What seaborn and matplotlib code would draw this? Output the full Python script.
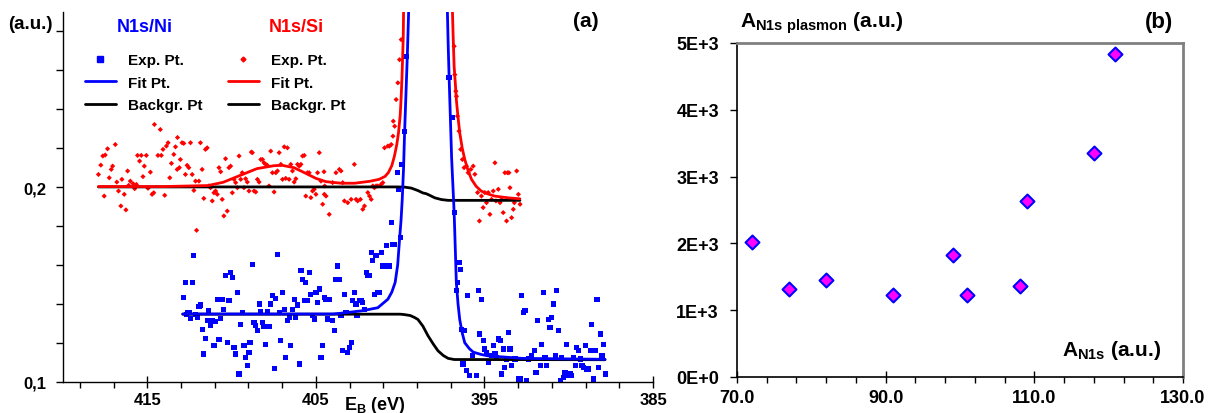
import matplotlib
matplotlib.use("Agg")
import matplotlib.pyplot as plt
import seaborn as sns
from matplotlib.lines import Line2D
from matplotlib.ticker import FixedLocator, MultipleLocator, FuncFormatter


# -----------------------------
# Data: panel (a), N1s/Si (red)
# -----------------------------
si_exp_E = [
    414.58, 414.23, 413.21,
    417.90, 417.76, 417.64, 417.50, 417.36, 417.56, 417.26, 417.14, 417.06, 416.90,
    416.81, 416.71, 416.57, 416.51, 416.37, 416.27, 416.17, 416.11, 416.01, 415.85,
    415.75, 415.65, 415.58, 415.46, 415.36, 415.26, 415.18, 415.06, 414.96, 414.82,
    414.72, 414.62, 414.37, 414.17, 414.07, 413.97, 413.87, 413.77, 413.67, 413.57,
    413.43, 413.33, 413.23, 413.10, 413.04, 412.94, 412.84, 412.74, 412.64, 412.54,
    412.44, 412.34, 412.24, 412.14, 412.08, 411.94, 411.85, 411.75, 411.65, 411.55,
    411.45, 411.35, 411.25, 411.15, 411.05, 410.95, 410.85, 410.75, 410.65, 410.56,
    410.46, 410.36, 410.26, 410.16, 410.06, 409.96, 409.86, 409.76, 409.66, 409.56,
    409.46, 409.37, 409.27, 409.17, 409.07, 408.97, 408.83, 408.77, 408.67, 408.57,
    408.47, 408.37, 408.27, 408.17, 408.08, 407.98, 407.88, 407.78, 407.68, 407.58,
    407.48, 407.38, 407.28, 407.18, 407.08, 406.98, 406.88, 406.79, 406.69, 406.59,
    406.49, 406.39, 406.29, 406.19, 406.09, 405.99, 405.89, 405.79, 405.69, 405.60,
    405.50, 405.40, 405.30, 405.20, 405.10, 405.00, 404.90, 404.80, 404.70, 404.60,
    404.50, 404.40, 404.21,
    404.52, 404.48, 404.01, 403.81, 403.61, 403.51, 403.41, 403.31, 403.11, 402.91,
    402.72, 402.62, 402.52, 402.36, 402.22, 402.12, 401.92, 401.82, 401.72, 401.62,
    401.53, 401.43, 401.33, 401.13, 401.03, 400.93, 400.73, 400.63, 400.53, 400.43,
    400.41, 400.33, 400.24, 400.14, 400.04, 399.94,
    396.80, 396.76, 396.70, 396.66, 396.60, 396.51, 396.41, 396.31, 396.21, 396.07,
    395.97, 395.81, 395.67, 395.57, 395.41, 395.30, 395.18, 395.08, 394.98, 394.88,
    394.78, 394.68, 394.58, 394.48, 394.38, 394.32, 394.18, 394.08, 393.99, 393.89,
    393.79, 393.69, 393.63, 393.55, 393.49, 393.39, 393.29, 393.23, 393.09, 392.99, 392.89,
]
si_exp_I = [
    0.2322, 0.2296, 0.2255,
    0.2065, 0.2113, 0.2160, 0.2165, 0.2197, 0.1954, 0.2048, 0.2091, 0.2108, 0.2219,
    0.2026, 0.1980, 0.1903, 0.2040, 0.1963, 0.1883, 0.2083, 0.2009, 0.2031, 0.2018,
    0.1992, 0.2014, 0.2163, 0.2134, 0.2163, 0.2054, 0.2108, 0.2163, 0.1994, 0.2077,
    0.1963, 0.1971, 0.2163, 0.2163, 0.2194, 0.1958, 0.2211, 0.2228, 0.2048, 0.2122,
    0.2168, 0.2207, 0.2091, 0.2100, 0.2142, 0.2228, 0.2225, 0.2065, 0.2112, 0.2100,
    0.2228, 0.2065, 0.1983, 0.2031, 0.1778, 0.2031, 0.2228, 0.2091, 0.1942, 0.2194,
    0.2202, 0.2006, 0.1997, 0.1929, 0.1971, 0.1980, 0.1963, 0.2100, 0.2079, 0.1937,
    0.1852, 0.2146, 0.1877, 0.2100, 0.2108, 0.1971, 0.2040, 0.2023, 0.1997, 0.2160,
    0.2040, 0.2074, 0.1997, 0.2043, 0.2026, 0.1980, 0.2180, 0.2177, 0.1980, 0.1975,
    0.2040, 0.2026, 0.2142, 0.2142, 0.2125, 0.2117, 0.2112, 0.2006, 0.2185, 0.2074,
    0.1975, 0.2074, 0.2083, 0.2177, 0.2117, 0.2040, 0.2207, 0.2045, 0.2202, 0.2040,
    0.2117, 0.2083, 0.2026, 0.2043, 0.2117, 0.2108, 0.2117, 0.2160, 0.2163, 0.1954,
    0.2074, 0.2074, 0.1946, 0.1980, 0.1989, 0.1963, 0.2074, 0.2177, 0.2031, 0.1912,
    0.1963, 0.1954, 0.1860,
    0.2079, 0.2006, 0.2023, 0.2074, 0.2091, 0.2083, 0.2023, 0.1929, 0.1920, 0.1937,
    0.2117, 0.1937, 0.1929, 0.1937, 0.1886, 0.1903, 0.1972, 0.1954, 0.1937, 0.2006,
    0.1997, 0.2006, 0.2006, 0.2014, 0.2023, 0.2202, 0.2211, 0.2211, 0.2219, 0.2262,
    0.2339, 0.2313, 0.2450, 0.2536, 0.2655, 0.2758,
    0.2724, 0.2578, 0.2493, 0.2467, 0.2365, 0.2288, 0.2194, 0.2142, 0.2100, 0.2108,
    0.2074, 0.2091, 0.2108, 0.2066, 0.1972, 0.1826, 0.1954, 0.1895, 0.1972, 0.1920,
    0.1972, 0.1860, 0.1937, 0.1980, 0.2125, 0.1929, 0.1989, 0.1920, 0.1937, 0.1869,
    0.2074, 0.1826, 0.2074, 0.2074, 0.1997, 0.1843, 0.1886, 0.1920, 0.2083, 0.1963, 0.1912,
]

si_fit_E = [417.9, 414.0, 411.4, 410.5, 409.5, 408.5, 407.5, 407.0, 406.3, 405.7,
            405.0, 404.4, 403.5, 402.7, 401.8, 401.25, 400.9, 400.7, 400.5, 400.35,
            400.2, 400.1, 400.0, 399.95, 399.9, 399.86, 399.82, 399.8, 399.6, 398.4,
            397.1, 396.9, 396.85, 396.8, 396.72, 396.67, 396.57, 396.47, 396.32, 396.17,
            395.97, 395.77, 395.5, 395.2, 394.8, 394.4, 393.6, 392.9]
si_fit_I = [0.2003, 0.2003, 0.2008, 0.2025, 0.2060, 0.2095, 0.2110, 0.2112, 0.2100, 0.2075,
            0.2045, 0.2028, 0.2020, 0.2020, 0.2030, 0.2040, 0.2055, 0.2075, 0.2110, 0.2157,
            0.2220, 0.2280, 0.2370, 0.2450, 0.2550, 0.2655, 0.2770, 0.2900, 0.3300, 0.6000,
            0.3300, 0.2900, 0.2750, 0.2620, 0.2520, 0.2450, 0.2360, 0.2280, 0.2200, 0.2142,
            0.2085, 0.2040, 0.2005, 0.1980, 0.1965, 0.1954, 0.1945, 0.1940]

si_bg_E = [417.9, 400.2, 399.74, 399.34, 398.94, 398.65, 398.45, 398.25, 397.95, 397.55,
           397.16, 392.9]
si_bg_I = [0.2001, 0.2001, 0.2000, 0.1995, 0.1982, 0.1970, 0.1966, 0.1958, 0.1945, 0.1936,
           0.1932, 0.1932]

# -----------------------------
# Data: panel (a), N1s/Ni (blue)
# -----------------------------
ni_exp_E = [
    412.84, 412.74, 412.68, 412.60, 412.52, 412.44, 412.34, 412.24, 412.14, 412.04,
    411.94, 411.85, 411.75, 411.65, 411.55, 411.45, 411.35, 411.25, 411.15, 411.05,
    410.95, 410.85, 410.75, 410.65, 410.56, 410.46, 410.36, 410.26, 410.16, 410.06,
    409.96, 409.86, 409.76, 409.66, 409.56, 409.46, 409.37, 409.27, 409.17, 409.07,
    408.97, 408.91, 408.77, 408.67, 408.57, 408.47, 408.37, 408.27, 408.17, 408.08,
    407.98, 407.88, 407.78, 407.68, 407.58, 407.48, 407.38, 407.28, 407.18, 407.08,
    406.98, 406.88, 406.79, 406.69, 406.59, 406.49, 406.39, 406.29, 406.19, 406.09,
    405.99, 405.89, 405.79, 405.69, 405.60, 405.50, 405.40, 405.30, 405.20, 405.10,
    405.00, 404.90, 404.80, 404.70, 404.60, 404.50, 404.40, 404.31, 404.21,
    404.01, 403.91, 403.81, 403.71, 403.61, 403.51, 403.41, 403.31, 403.21, 403.11,
    403.01, 402.91, 402.82, 402.72, 402.62, 402.56, 402.42, 402.32, 402.22, 402.12,
    402.02, 401.92, 401.82, 401.72, 401.62, 401.53, 401.43, 401.33, 401.23, 401.13,
    401.03, 400.93, 400.83, 400.73, 400.63, 400.53, 400.43, 400.33, 400.18, 400.10,
    400.00, 399.90, 399.74, 399.64,
    397.10, 396.90, 396.80, 396.68, 396.60, 396.51, 396.41, 396.37, 396.27, 396.17,
    396.07, 396.01, 395.87, 395.73, 395.47, 395.37, 395.28, 395.18, 395.08, 394.98,
    394.88, 394.78, 394.58, 394.48, 394.38, 394.28, 394.18, 394.05, 393.99, 393.89,
    393.79, 393.69, 393.59, 393.49, 393.39, 393.19, 392.99, 392.85, 392.80, 392.70,
    392.60, 392.50, 392.40, 392.20, 392.04, 391.94, 391.84, 391.70, 391.60, 391.51,
    391.41, 391.31, 391.21, 391.11, 391.01, 390.91, 390.81, 390.71, 390.61, 390.51,
    390.41, 390.31, 390.22, 390.12, 390.02, 389.92, 389.82, 389.72, 389.62, 389.52,
    389.42, 389.32, 389.22, 389.12, 389.03, 388.93, 388.83, 388.73, 388.63, 388.53,
    388.43, 388.33, 388.23, 388.13, 388.03, 387.93, 387.83,
]
ni_exp_I = [
    0.1433, 0.1510, 0.1347, 0.1356, 0.1356, 0.1325, 0.1510, 0.1647, 0.1347, 0.1330,
    0.1387, 0.1394, 0.1270, 0.1142, 0.1224, 0.1313, 0.1364, 0.1288, 0.1313, 0.1185,
    0.1308, 0.1421, 0.1216, 0.1325, 0.1421, 0.1370, 0.1544, 0.1202, 0.1416, 0.1561,
    0.1536, 0.1177, 0.1142, 0.1459, 0.1040, 0.1296, 0.1356, 0.1185, 0.1125, 0.1083,
    0.1151, 0.1202, 0.1601, 0.1305, 0.1288, 0.1262, 0.1399, 0.1361, 0.1305, 0.1283,
    0.1190, 0.1361, 0.1283, 0.1399, 0.1442, 0.1066, 0.1428, 0.1655, 0.1356, 0.1211,
    0.1459, 0.1373, 0.1125, 0.1313, 0.1330, 0.1185, 0.1373, 0.1424, 0.1330, 0.1394,
    0.1091, 0.1570, 0.1527, 0.1416, 0.1510, 0.1416, 0.1561, 0.1450, 0.1339, 0.1322,
    0.1459, 0.1407, 0.1476, 0.1125, 0.1185, 0.1433, 0.1424, 0.1322, 0.1424,
    0.1313, 0.1262, 0.1527, 0.1595, 0.1527, 0.1339, 0.1159, 0.1450, 0.1356, 0.1151,
    0.1176, 0.1202, 0.1416, 0.1458, 0.1399, 0.1339, 0.1416, 0.1416, 0.1407, 0.1373,
    0.1561, 0.1544, 0.1544, 0.1664, 0.1621, 0.1450, 0.1647, 0.1458, 0.1458, 0.1664,
    0.1595, 0.1595, 0.1698, 0.1595, 0.1595, 0.1818, 0.1706, 0.1706, 0.2077, 0.1988,
    0.1740, 0.2116, 0.2287, 0.2672,
    0.2565, 0.2356, 0.1869, 0.1467, 0.1510, 0.1612, 0.1578, 0.1270, 0.1091, 0.1262,
    0.1057, 0.1441, 0.1031, 0.1134, 0.1031, 0.1467, 0.1245, 0.1424, 0.1211, 0.1168,
    0.1151, 0.1099, 0.1134, 0.1185, 0.1142, 0.1125, 0.1219, 0.1211, 0.1040, 0.1168,
    0.1074, 0.1117, 0.1253, 0.1168, 0.1082, 0.1117, 0.1014, 0.1014, 0.1441, 0.1356,
    0.1364, 0.1005, 0.1117, 0.1134, 0.1159, 0.1048, 0.1313, 0.1082, 0.1193, 0.1458,
    0.1125, 0.1082, 0.1321, 0.1279, 0.1330, 0.1399, 0.1134, 0.1467, 0.1262, 0.1005,
    0.1125, 0.1023, 0.1048, 0.1193, 0.1031, 0.1040, 0.1031, 0.1125, 0.1082, 0.1176,
    0.1159, 0.1117, 0.1082, 0.1074, 0.1185, 0.1065, 0.1065, 0.1159, 0.1296, 0.1014,
    0.1159, 0.1424, 0.1074, 0.1245, 0.1134, 0.1193, 0.1040,
]

ni_fit_E = [412.9, 404.0, 403.5, 402.3, 401.33, 400.73, 400.5, 400.3, 400.15, 400.04,
            399.95, 399.88, 399.8, 399.74, 399.65, 399.58, 399.5, 399.3, 398.35, 397.4,
            397.2, 397.15, 397.1, 396.95, 396.8, 396.72, 396.67, 396.57, 396.47, 396.32,
            396.17, 395.9, 395.67, 395.2, 394.8, 392.8, 387.85]
ni_fit_I = [0.1348, 0.1348, 0.1352, 0.1364, 0.1380, 0.1424, 0.1460, 0.1510, 0.1600, 0.1730,
            0.1830, 0.1936, 0.2100, 0.2280, 0.2500, 0.2670, 0.2900, 0.3500, 0.7000, 0.3500,
            0.2900, 0.2720, 0.2568, 0.2150, 0.1870, 0.1650, 0.1510, 0.1400, 0.1320, 0.1250,
            0.1200, 0.1170, 0.1152, 0.1140, 0.1133, 0.1120, 0.1115]

ni_bg_E = [412.9, 400.0, 399.76, 399.4, 399.15, 398.95, 398.65, 398.35, 398.05, 397.76,
           397.45, 397.16, 396.8, 387.85]
ni_bg_I = [0.1347, 0.1347, 0.1345, 0.1340, 0.1330, 0.1320, 0.1285, 0.1236, 0.1195, 0.1159,
           0.1135, 0.1120, 0.1114, 0.1113]

# -----------------------------
# Data: panel (b)
# -----------------------------
a_n1s = [72.0, 77.0, 82.0, 91.0, 99.0, 101.0, 108.0, 109.0, 118.0, 120.8]
a_plasmon = [2020, 1320, 1445, 1230, 1830, 1225, 1365, 2635, 3355, 4830]


# -----------------------------
# Style
# -----------------------------
sns.set_style("white")
plt.rcParams["font.family"] = ["Liberation Sans", "DejaVu Sans"]
plt.rcParams["font.weight"] = "bold"
plt.rcParams["text.color"] = "black"
plt.rcParams["xtick.color"] = "black"
plt.rcParams["ytick.color"] = "black"
plt.rcParams["axes.labelcolor"] = "black"
plt.rcParams["mathtext.fontset"] = "custom"
plt.rcParams["mathtext.rm"] = "Liberation Sans:bold"
plt.rcParams["mathtext.bf"] = "Liberation Sans:bold"
plt.rcParams["mathtext.it"] = "Liberation Sans:bold"

fig = plt.figure(figsize=(12.15, 4.14), dpi=100)

# -----------------------------
# Panel (a): spectra
# -----------------------------
ax1 = fig.add_axes([0.0519, 0.0756, 0.4856, 0.8930])

sns.scatterplot(x=si_exp_E, y=si_exp_I, ax=ax1, marker="D", s=7,
                color="red", edgecolor="none", zorder=2)
sns.scatterplot(x=ni_exp_E, y=ni_exp_I, ax=ax1, marker="s", s=14,
                color="blue", edgecolor="none", zorder=2)
sns.lineplot(x=si_bg_E, y=si_bg_I, ax=ax1, color="black", lw=2,
             sort=False, estimator=None, zorder=3)
sns.lineplot(x=ni_bg_E, y=ni_bg_I, ax=ax1, color="black", lw=2,
             sort=False, estimator=None, zorder=3)
sns.lineplot(x=si_fit_E, y=si_fit_I, ax=ax1, color="red", lw=2,
             sort=False, estimator=None, zorder=4)
sns.lineplot(x=ni_fit_E, y=ni_fit_I, ax=ax1, color="blue", lw=2,
             sort=False, estimator=None, zorder=4)

ax1.set_xlim(420, 385)
ax1.set_ylim(0.1, 0.29)
ax1.xaxis.set_major_locator(FixedLocator([415, 405, 395, 385]))
ax1.xaxis.set_minor_locator(FixedLocator(list(range(385, 420, 2))))
ax1.yaxis.set_major_locator(FixedLocator([0.1, 0.2]))
ax1.yaxis.set_minor_locator(MultipleLocator(0.02))
ax1.yaxis.set_major_formatter(FuncFormatter(lambda v, p: f"{v:.1f}".replace(".", ",")))
ax1.tick_params(axis="x", which="major", direction="inout", length=9, width=1,
                labelsize=12, pad=3)
ax1.tick_params(axis="x", which="minor", direction="out", length=4, width=1)
ax1.tick_params(axis="y", which="both", direction="out", length=5, width=1,
                labelsize=12, pad=7)
ax1.tick_params(bottom=True, left=True, which="both")
ax1.set_xlabel("")
ax1.set_ylabel("")
for side in ["top", "right"]:
    ax1.spines[side].set_visible(False)
for side in ["left", "bottom"]:
    ax1.spines[side].set_color("black")
    ax1.spines[side].set_linewidth(1)

fig.text(30.8 / 1215, 1 - 29 / 414, "(a.u.)", ha="center", va="baseline", fontsize=13.5)
fig.text(585.5 / 1215, 1 - 27 / 414, "(a)", ha="center", va="baseline", fontsize=15)
fig.text(375 / 1215, 1 - 410 / 414, r"E$_{B}$ (eV)", ha="center", va="baseline", fontsize=13)
fig.text(145 / 1215, 1 - 32 / 414, "N1s/Ni", ha="center", va="baseline",
         fontsize=13, color="blue")
fig.text(296 / 1215, 1 - 32 / 414, "N1s/Si", ha="center", va="baseline",
         fontsize=13, color="red")

ni_handles = [
    Line2D([], [], marker="s", color="blue", linestyle="none", markersize=4),
    Line2D([], [], color="blue", lw=2),
    Line2D([], [], color="black", lw=2),
]
si_handles = [
    Line2D([], [], marker="D", color="red", linestyle="none", markersize=2.5),
    Line2D([], [], color="red", lw=2),
    Line2D([], [], color="black", lw=2),
]
labels = ["Exp. Pt.", "Fit Pt.", "Backgr. Pt"]
leg_kw = dict(loc="upper left", frameon=False, fontsize=11, handlelength=2.0,
              handletextpad=0.8, labelspacing=0.56, borderpad=0, borderaxespad=0,
              bbox_transform=fig.transFigure, labelcolor="black")
leg1 = ax1.legend(ni_handles, labels, bbox_to_anchor=(85 / 1215, 1 - 54 / 414), **leg_kw)
ax1.add_artist(leg1)
ax1.legend(si_handles, labels, bbox_to_anchor=(228 / 1215, 1 - 54 / 414), **leg_kw)

# -----------------------------
# Panel (b): plasmon area vs N1s area
# -----------------------------
ax2 = fig.add_axes([0.6066, 0.0870, 0.3671, 0.8068])
sns.scatterplot(x=a_n1s, y=a_plasmon, ax=ax2, marker="D", s=50,
                color="#FF00FF", edgecolor="blue", linewidth=1.5, zorder=3)

ax2.set_xlim(70, 130)
ax2.set_ylim(0, 5000)
ax2.xaxis.set_major_locator(FixedLocator([70, 90, 110, 130]))
ax2.xaxis.set_minor_locator(FixedLocator(list(range(70, 131, 4))))
ax2.yaxis.set_major_locator(MultipleLocator(1000))
ax2.xaxis.set_major_formatter(FuncFormatter(lambda v, p: f"{v:.1f}"))
ax2.yaxis.set_major_formatter(
    FuncFormatter(lambda v, p: "0E+0" if v == 0 else f"{int(round(v / 1000))}E+3"))
ax2.tick_params(axis="x", which="major", direction="inout", length=8, width=1,
                labelsize=13, pad=5)
ax2.tick_params(axis="x", which="minor", direction="out", length=4, width=1)
ax2.tick_params(axis="y", which="major", direction="out", length=5, width=1,
                labelsize=13, pad=8)
ax2.tick_params(bottom=True, left=True, which="both")
ax2.set_xlabel("")
ax2.set_ylabel("")
for side in ["top", "right"]:
    ax2.spines[side].set_color("#808080")
    ax2.spines[side].set_linewidth(2)
for side in ["left", "bottom"]:
    ax2.spines[side].set_color("black")
    ax2.spines[side].set_linewidth(1.2)

fig.text(740 / 1215, 1 - 28 / 414, r"A$_{N1s\ plasmon}$ (a.u.)", ha="left",
         va="baseline", fontsize=15)
fig.text(1158.5 / 1215, 1 - 28 / 414, "(b)", ha="center", va="baseline", fontsize=16)
ax2.text(127.1, 330, r"A$_{N1s}$ (a.u.)", ha="right", va="baseline", fontsize=15)

fig.savefig("out.png", dpi=100)
